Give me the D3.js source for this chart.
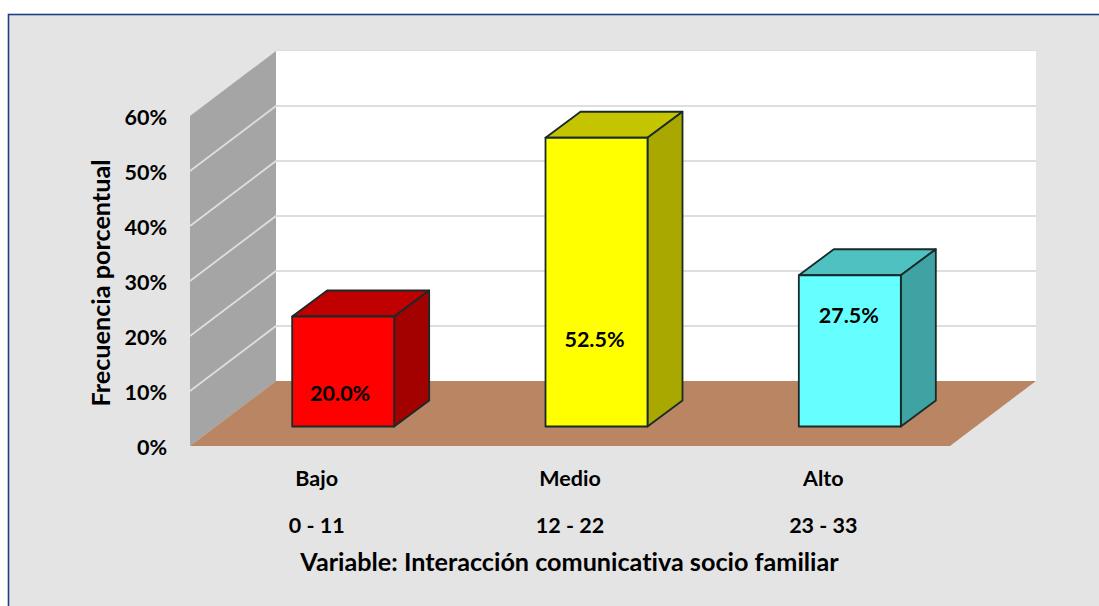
<!DOCTYPE html>
<html><head><meta charset="utf-8">
<script src="https://cdn.jsdelivr.net/npm/d3@7"></script>
<style>html,body{margin:0;padding:0;background:#fff;overflow:hidden}svg{display:block}text{font-family:Lato,"Open Sans",sans-serif;font-weight:700;fill:#000;font-variant-ligatures:none}</style>
</head><body><svg id="c" width="1099" height="606"></svg>
<script>
const categories = ["Bajo","Medio","Alto"];
const ranges = ["0 - 11","12 - 22","23 - 33"];
const values = [20.0,52.5,27.5];
const yTicks = [0,10,20,30,40,50,60];
const yTitle = "Frecuencia porcentual";
const xTitle = "Variable: Interacción comunicativa socio familiar";
const frontColors = ["#ff0000","#ffff00","#66ffff"];
const topColors = ["#c00000","#c4c400","#4fc1c1"];
const sideColors = ["#a30000","#a8a800","#40a3a3"];
const labelDrop = [77,202,41];
const labelShift = [-3,-2,-1];

const svg = d3.select("#c");
const x = d3.scaleBand().domain(categories).range([190,950]);
const y = d3.scaleLinear().domain([0,60]).range([446,116]);
const DX=86, DY=-65;            // wall depth
const barW=102, bx=26.5, by=-19.5; // bar position in the floor
const dDX=35, dDY=-26;           // bar depth
const tickFont=21.5, titleFont=25.2;
const poly=(g,pts,fill,stroke)=>g.append("polygon").attr("points",pts.map(p=>p.join(",")).join(" ")).attr("fill",fill).attr("stroke",stroke||"none").attr("stroke-width",stroke?1.8:0).attr("stroke-linejoin","round");

svg.append("rect").attr("x",8.5).attr("y",14.5).attr("width",1200).attr("height",700).attr("fill","#e4e4e4").attr("stroke","#1f3f80").attr("stroke-width",1.6);

const xL=190,xR=950,y0=y(0),yT=y(60);
poly(svg,[[xL+DX,yT+DY],[xR+DX,yT+DY],[xR+DX,y0+DY],[xL+DX,y0+DY]],"#ffffff");
poly(svg,[[xL,y0],[xL+DX,y0+DY],[xL+DX,yT+DY],[xL,yT]],"#a5a5a5");
svg.append("line").attr("x1",xL+DX).attr("x2",xR+DX).attr("y1",yT+DY-.5).attr("y2",yT+DY-.5).attr("stroke","#dcdcdc").attr("stroke-width",1.2);

const grid=svg.append("g");
yTicks.filter(t=>t>0&&t<60).forEach(t=>{
  const yy=y(t);
  grid.append("path").attr("d",`M${xL},${yy}L${xL+DX},${yy+DY}L${xR+DX},${yy+DY}`).attr("fill","none").attr("stroke","#dedede").attr("stroke-width",1.8);
});
poly(svg,[[xL,y0],[xL+DX,y0+DY],[xR+DX,y0+DY],[xR,y0]],"#b98563");

categories.forEach((c,i)=>{
  const g=svg.append("g");
  const l=x(c)+(x.bandwidth()-barW)/2+bx, r=l+barW, b=y0+by, t=y(values[i])+by;
  const s="#1a2a2a";
  poly(g,[[l,t],[l+dDX,t+dDY],[r+dDX,t+dDY],[r,t]],topColors[i],s);
  poly(g,[[r,t],[r+dDX,t+dDY],[r+dDX,b+dDY],[r,b]],sideColors[i],s);
  poly(g,[[l,t],[r,t],[r,b],[l,b]],frontColors[i],s);
  g.append("text").attr("x",(l+r)/2+labelShift[i]).attr("y",t+labelDrop[i]-.5).attr("dy","0.36em").attr("text-anchor","middle").attr("font-size",tickFont).text(d3.format(".1f")(values[i])+"%");
  svg.append("text").attr("x",x(c)+x.bandwidth()/2).attr("y",478).attr("dy","0.36em").attr("text-anchor","middle").attr("font-size",tickFont).text(c);
  svg.append("text").attr("x",x(c)+x.bandwidth()/2).attr("y",525).attr("dy","0.36em").attr("text-anchor","middle").attr("font-size",tickFont).text(ranges[i]);
});

const ax=svg.append("g").attr("transform","translate(167,2)").call(d3.axisLeft(y).tickValues(yTicks).tickFormat(d=>d+"%").tickSize(0).tickPadding(0));
ax.select(".domain").remove();
ax.selectAll("text").attr("font-size",tickFont).style("font-family","Lato").style("font-weight",700).attr("fill","#000");

svg.append("text").attr("transform","translate(101,283) rotate(-90)").attr("dy","0.36em").attr("text-anchor","middle").attr("font-size",titleFont).text(yTitle);
svg.append("text").attr("x",569.5).attr("y",562).attr("dy","0.36em").attr("text-anchor","middle").attr("font-size",titleFont).text(xTitle);
</script></body></html>
